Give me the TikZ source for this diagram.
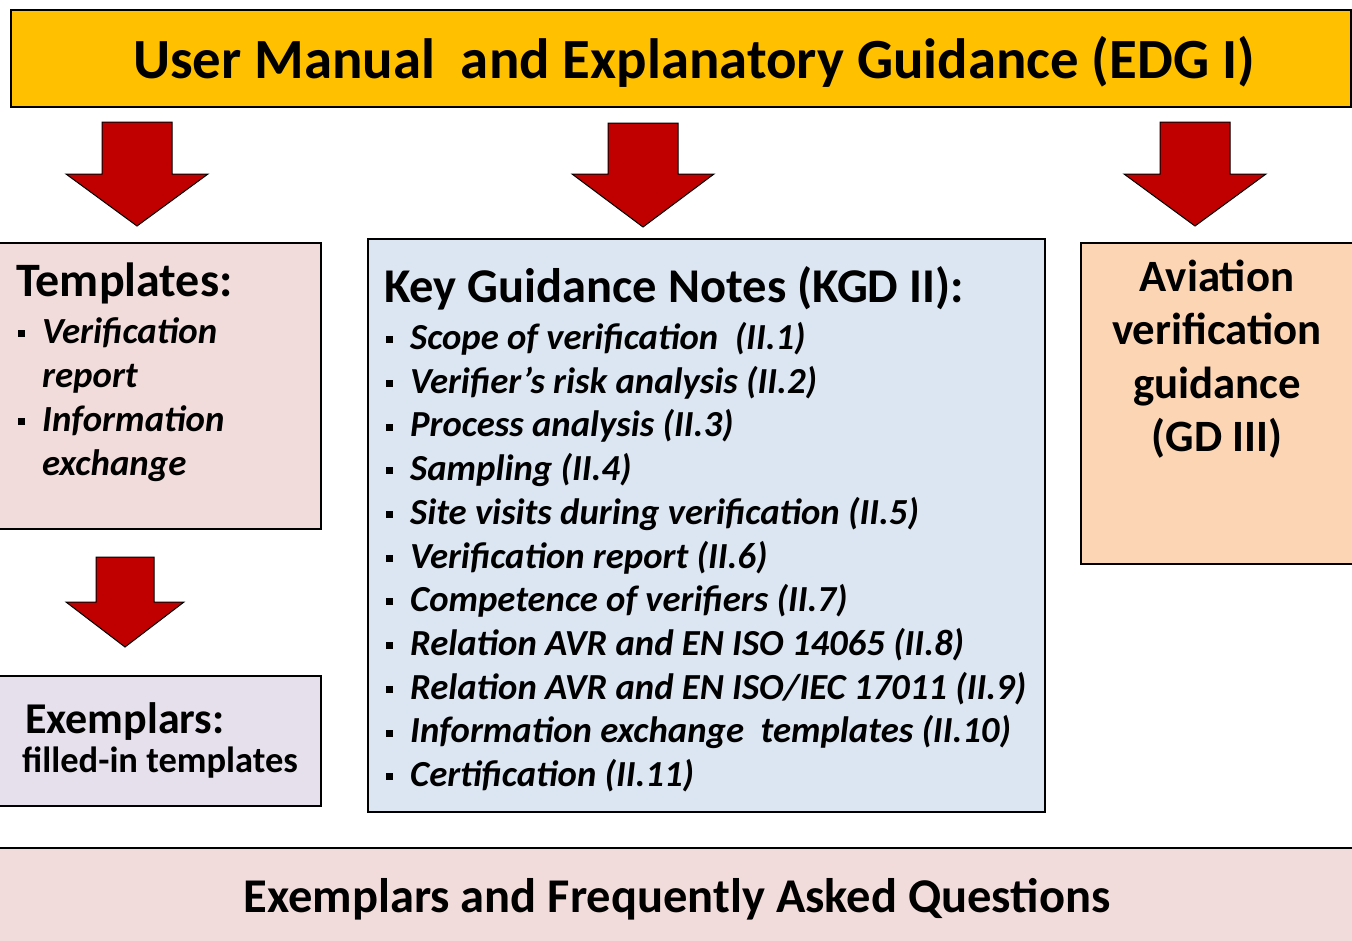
\documentclass[tikz,border=0pt]{standalone}
\usepackage{fontspec}
\setmainfont{Carlito}
\usetikzlibrary{positioning}

\definecolor{titlegold}{HTML}{FFC000}
\definecolor{arrowred}{HTML}{C00000}
\definecolor{tplpink}{HTML}{F2DCDB}
\definecolor{kgdblue}{HTML}{DCE6F2}
\definecolor{avpeach}{HTML}{FCD5B5}
\definecolor{exlilac}{HTML}{E6E0EC}

\newcommand{\sqbullet}{\rule[0.17em]{0.19em}{0.19em}}

\begin{document}
\begin{tikzpicture}[x=1pt,y=-1pt,
    box/.style={draw=black, line width=1.8pt, inner sep=0pt, anchor=north west},
    blockarrow/.style={fill=arrowred, draw=black, line width=1pt, line join=miter},
    label/.style={inner sep=0pt, font=\bfseries}]
\useasboundingbox (0,0) rectangle (1352,940);

% boxes
\node (edg) [box, fill=titlegold, minimum width=1340pt, minimum height=97pt] at (10,9) {};
\node (tpl) [box, fill=tplpink, minimum width=323pt, minimum height=286pt] at (-3,242) {};
\node (exm) [box, fill=exlilac, minimum width=323pt, minimum height=130pt] at (-3,675) {};
\node (kgd) [box, fill=kgdblue, minimum width=677pt, minimum height=573pt] at (367,238) {};
\node (avi) [box, fill=avpeach, minimum width=276pt, minimum height=321pt] at (1080,242) {};
\node (faq) [box, fill=tplpink, minimum width=1362pt, minimum height=100pt] at (-5,847) {};

% block arrows
\foreach \ax/\ay/\sw/\hw/\sl/\al in {137/122/35/71/52/104, 643/123/35/71/51/104,
                                     1195/122/35/71/52/104, 125/557/29/59/45/90}
    \draw[blockarrow] (\ax-\sw,\ay) -- (\ax+\sw,\ay) -- (\ax+\sw,\ay+\sl) -- (\ax+\hw,\ay+\sl)
        -- (\ax,\ay+\al) -- (\ax-\hw,\ay+\sl) -- (\ax-\sw,\ay+\sl) -- cycle;

% texts
\node (edgtext) [label, anchor=base] at (694,78)
    {\fontsize{56.8}{68}\selectfont User Manual\ \ and Explanatory Guidance (EDG I)};

\node (tpltitle) [label, anchor=base west] at (16,296)
    {\fontsize{48}{56}\selectfont Templates:};
\node (tplitems) [label, anchor=base west] at (18,343)
    {\fontsize{36.8}{44}\selectfont\itshape
     \begin{tabular}[t]{@{}l@{\hspace{17pt}}l@{}}
     \sqbullet & Verification\\
               & report\\
     \sqbullet & Information\\
               & exchange
     \end{tabular}};

\node (exmtitle) [label, anchor=base west] at (25,733)
    {\fontsize{44}{52}\selectfont Exemplars:};
\node (exmtext) [label, anchor=base west] at (22,772)
    {\fontsize{36.5}{44}\selectfont filled-in templates};

\node (kgdtitle) [label, anchor=base west] at (384,302)
    {\fontsize{48.5}{58}\selectfont Key Guidance Notes (KGD II):};
\foreach \t [count=\i] in {Scope of verification\ \ (II.1),
                           Verifier’s risk analysis (II.2),
                           Process analysis (II.3),
                           Sampling (II.4),
                           Site visits during verification (II.5),
                           Verification report (II.6),
                           Competence of verifiers (II.7),
                           Relation AVR and EN ISO 14065 (II.8),
                           Relation AVR and EN ISO/IEC 17011 (II.9),
                           Information exchange\ \ templates (II.10),
                           Certification (II.11)}
{
    \node (kgdbul\i) [label, anchor=base west] at (386,349.5+43.7*\i-43.7)
        {\fontsize{36.7}{44}\selectfont\sqbullet};
    \node (kgditem\i) [label, anchor=base west] at (410,349.5+43.7*\i-43.7)
        {\fontsize{36.7}{44}\selectfont\itshape \t};
}

\node (avitext) [label, anchor=base] at (1217,291)
    {\fontsize{44.8}{53.5}\selectfont
     \begin{tabular}[t]{@{}c@{}}
     Aviation\\ verification\\ guidance\\ (GD III)
     \end{tabular}};

\node (faqtext) [label, anchor=base] at (677,912)
    {\fontsize{48.5}{56}\selectfont Exemplars and Frequently Asked Questions};
\end{tikzpicture}
\end{document}
